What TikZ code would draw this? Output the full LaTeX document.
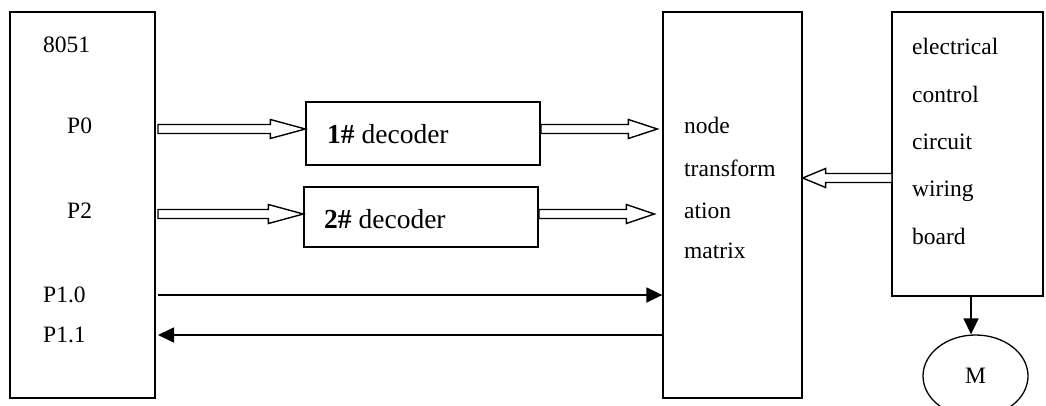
\documentclass[tikz,border=0pt]{standalone}
\usepackage{fontspec}
\setmainfont{Liberation Serif}
\usetikzlibrary{calc,arrows.meta,shapes.geometric}
\tikzset{
  box/.style={draw, line width=1.3pt, inner sep=0pt, minimum width=#1},
  lbl/.style={anchor=base west, inner sep=0pt, font=\fontsize{23.5}{28}\selectfont},
  declbl/.style={anchor=base west, inner sep=0pt, font=\fontsize{27.5}{32}\selectfont},
  hollow/.style={draw, line width=1.4pt, line join=miter, fill=white},
  thinarrow/.style={line width=1.7pt, -{Triangle[length=16pt,width=15pt]}},
}
\newcommand\hollowarrow[3]{%
  \draw[hollow] let \p1=(#1), \p2=(#2), \n1={sign(\x2-\x1)} in
    (\x1,\y1+4.5pt) -- (\x2-\n1*#3,\y1+4.5pt) -- (\x2-\n1*#3,\y1+9.5pt)
    -- (\x2,\y1) -- (\x2-\n1*#3,\y1-9.5pt) -- (\x2-\n1*#3,\y1-4.5pt)
    -- (\x1,\y1-4.5pt) -- cycle;}
\begin{document}
\begin{tikzpicture}[x=1pt,y=-1pt]
\clip (0,0) rectangle (1046,405);
% boxes
\node[box=145pt, minimum height=386pt] (mcu) at (82.5,205) {};
\node[box=234pt, minimum height=63pt] (dec1) at (423,133.5) {};
\node[box=234pt, minimum height=60pt] (dec2) at (421,217) {};
\node[box=139pt, minimum height=386pt] (matrix) at (732.5,205) {};
\node[box=151pt, minimum height=284pt] (board) at (967.5,154) {};
\node[draw, line width=1.3pt, ellipse, minimum width=105pt, minimum height=82pt, inner sep=0pt,
      font=\fontsize{23.5}{28}\selectfont] (motor) at (975.5,376) {M};
% labels 8051
\node[lbl] (t8051) at (43,52) {8051};
\node[lbl] (tp0) at (67,133) {P0};
\node[lbl] (tp2) at (67,218) {P2};
\node[lbl] (tp10) at (43,302) {P1.0};
\node[lbl] (tp11) at (43,342) {P1.1};
% decoders
\node[declbl] (td1) at (327,143) {\textbf{1\#} decoder};
\node[declbl] (td2) at (324,228) {\textbf{2\#} decoder};
% matrix
\node[lbl] (tm1) at (684,133) {node};
\node[lbl] (tm2) at (684,176) {transform};
\node[lbl] (tm3) at (684,218) {ation};
\node[lbl] (tm4) at (684,258) {matrix};
% board
\node[lbl] (tb1) at (912,54) {electrical};
\node[lbl] (tb2) at (912,102) {control};
\node[lbl] (tb3) at (912,149) {circuit};
\node[lbl] (tb4) at (912,196) {wiring};
\node[lbl] (tb5) at (912,244) {board};
% coordinates
\coordinate (a0) at (158,129);
\coordinate (a2) at (158,214);
\coordinate (b0) at (541,129);
\coordinate (b2) at (539,214);
\coordinate (c0) at (892,178);
\coordinate (r10) at (158,295);
\coordinate (r11) at (158,335);
% hollow arrows
\hollowarrow{a0}{dec1.west |- a0}{35pt}
\hollowarrow{a2}{dec2.west |- a2}{35pt}
\hollowarrow{b0}{[xshift=-5pt]matrix.west |- b0}{29pt}
\hollowarrow{b2}{[xshift=-8pt]matrix.west |- b2}{28pt}
\hollowarrow{c0}{matrix.east |- c0}{23pt}
% thin arrows
\draw[thinarrow] (r10) -- (matrix.west |- r10);
\draw[thinarrow] (matrix.west |- r11) -- (r11);
\draw[thinarrow] ([xshift=-4.5pt]motor.north |- board.south) -- ([xshift=-4.5pt]motor.north);
\end{tikzpicture}
\end{document}
